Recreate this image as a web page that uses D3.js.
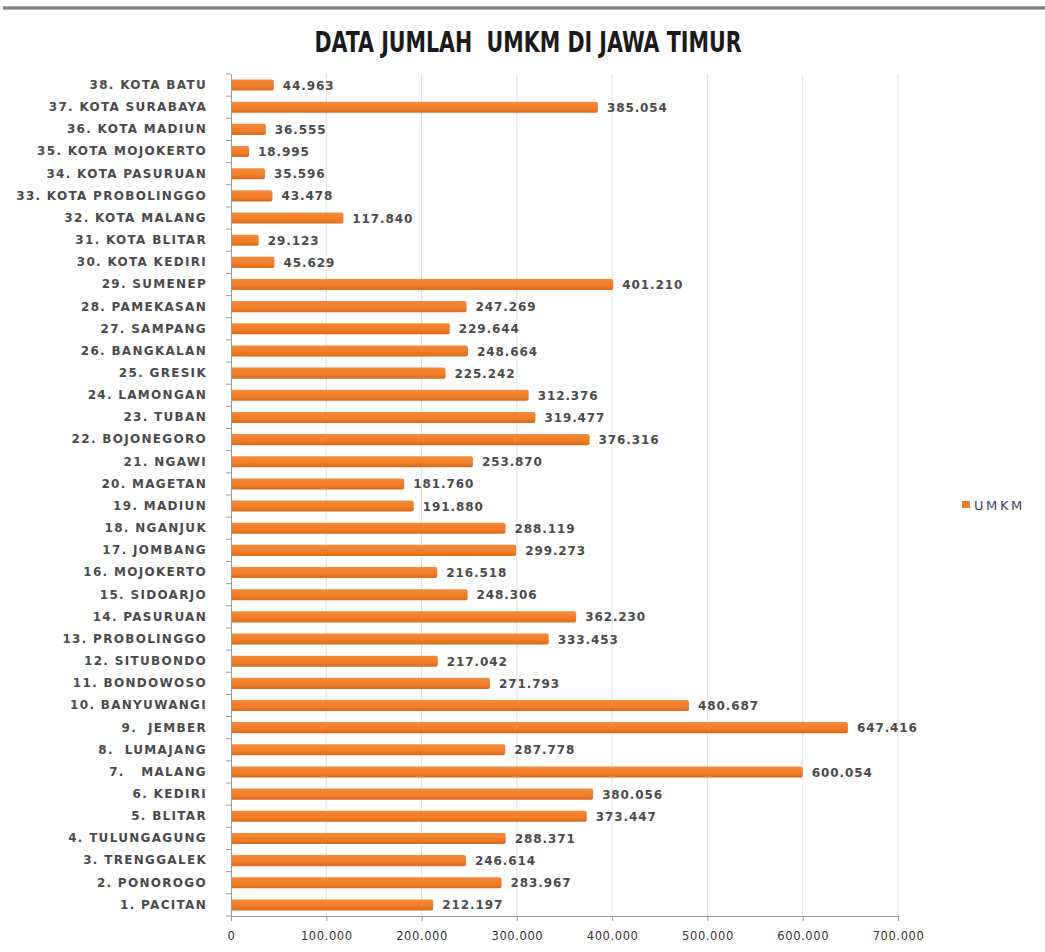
<!DOCTYPE html>
<html>
<head>
<meta charset="utf-8">
<script src="https://cdn.jsdelivr.net/npm/d3@7"></script>
<style>
  body { margin: 0; background: #fff; }
  text { white-space: pre; }
</style>
</head>
<body>
<div id="chart"></div>
<script>
// Data (top to bottom as drawn)
const regions = [
  '38. KOTA BATU', '37. KOTA SURABAYA', '36. KOTA MADIUN', '35. KOTA MOJOKERTO',
  '34. KOTA PASURUAN', '33. KOTA PROBOLINGGO', '32. KOTA MALANG', '31. KOTA BLITAR',
  '30. KOTA KEDIRI', '29. SUMENEP', '28. PAMEKASAN', '27. SAMPANG', '26. BANGKALAN',
  '25. GRESIK', '24. LAMONGAN', '23. TUBAN', '22. BOJONEGORO', '21. NGAWI',
  '20. MAGETAN', '19. MADIUN', '18. NGANJUK', '17. JOMBANG', '16. MOJOKERTO',
  '15. SIDOARJO', '14. PASURUAN', '13. PROBOLINGGO', '12. SITUBONDO', '11. BONDOWOSO',
  '10. BANYUWANGI', '9.  JEMBER', '8.  LUMAJANG', '7.   MALANG', '6. KEDIRI',
  '5. BLITAR', '4. TULUNGAGUNG', '3. TRENGGALEK', '2. PONOROGO', '1. PACITAN'
]
const umkm = [
  44963, 385054, 36555, 18995, 35596, 43478, 117840, 29123, 45629, 401210,
  247269, 229644, 248664, 225242, 312376, 319477, 376316, 253870, 181760, 191880,
  288119, 299273, 216518, 248306, 362230, 333453, 217042, 271793, 480687, 647416,
  287778, 600054, 380056, 373447, 288371, 246614, 283967, 212197
]
const xTicks = [0, 100000, 200000, 300000, 400000, 500000, 600000, 700000]
const seriesName = 'UMKM'

const fmt = v => d3.format(',')(v).replace(/,/g, '.')

const width = 1045, height = 952
const margin = { top: 74, left: 231, right: 147, bottom: 36 }
const innerW = width - margin.left - margin.right
const innerH = height - margin.top - margin.bottom
const labelFont = 'DejaVu Sans, Verdana, sans-serif'

const svg = d3.select('#chart').append('svg')
  .attr('width', width)
  .attr('height', height)

const defs = svg.append('defs')
// top rule
const grad = defs.append('linearGradient')
  .attr('id', 'rule').attr('x1', 0).attr('x2', 0).attr('y1', 0).attr('y2', 1)
grad.append('stop').attr('offset', '0%').attr('stop-color', '#bdbdbd')
grad.append('stop').attr('offset', '50%').attr('stop-color', '#6b6b6b')
grad.append('stop').attr('offset', '100%').attr('stop-color', '#c8c8c8')
// bar shading
const barGrad = defs.append('linearGradient')
  .attr('id', 'bar').attr('x1', 0).attr('x2', 0).attr('y1', 0).attr('y2', 1)
barGrad.append('stop').attr('offset', '0%').attr('stop-color', '#f48a3a')
barGrad.append('stop').attr('offset', '60%').attr('stop-color', '#f07d28')
barGrad.append('stop').attr('offset', '100%').attr('stop-color', '#d96a1c')

svg.append('rect')
  .attr('x', 3).attr('y', 6).attr('width', width - 3).attr('height', 4)
  .attr('fill', 'url(#rule)')

svg.append('text')
  .attr('x', 528).attr('y', 52)
  .attr('text-anchor', 'middle')
  .attr('font-family', 'DejaVu Sans Condensed, sans-serif')
  .attr('font-stretch', 'condensed')
  .attr('font-weight', 'bold')
  .attr('font-size', 29)
  .attr('textLength', 427)
  .attr('lengthAdjust', 'spacingAndGlyphs')
  .attr('fill', '#1a1a1a')
  .text('DATA JUMLAH  UMKM DI JAWA TIMUR')

const ctr = svg.append('g')
  .attr('transform', `translate(${margin.left}, ${margin.top})`)

const xScale = d3.scaleLinear()
  .domain([0, 700000])
  .range([0, 667])

const yScale = d3.scaleBand()
  .domain(regions)
  .range([0, innerH])
  .paddingInner(0.5)
  .paddingOuter(0.25)

// gridlines
ctr.append('g')
  .selectAll('line')
  .data(xTicks.slice(1))
  .join('line')
  .attr('x1', d => xScale(d)).attr('x2', d => xScale(d))
  .attr('y1', 0).attr('y2', innerH)
  .attr('stroke', '#e2e2e2')

// bars
ctr.append('g')
  .selectAll('rect')
  .data(regions)
  .join('rect')
  .attr('x', 0)
  .attr('y', d => yScale(d))
  .attr('width', (d, i) => xScale(umkm[i]))
  .attr('height', yScale.bandwidth())
  .attr('rx', 2)
  .attr('fill', 'url(#bar)')

// value labels
ctr.append('g')
  .selectAll('text')
  .data(regions)
  .join('text')
  .attr('x', (d, i) => xScale(umkm[i]) + 9)
  .attr('y', d => yScale(d) + yScale.bandwidth() / 2)
  .attr('dy', '0.38em')
  .attr('font-family', labelFont)
  .attr('font-size', 12)
  .attr('font-weight', 'bold')
  .attr('letter-spacing', 0.9)
  .attr('fill', '#4a4a4a')
  .text((d, i) => fmt(umkm[i]))

// x axis
const xAxis = d3.axisBottom(xScale)
  .tickValues(xTicks)
  .tickFormat(fmt)
  .tickSize(5)
  .tickSizeOuter(0)
const xg = ctr.append('g')
  .attr('transform', `translate(0, ${innerH})`)
  .call(xAxis)
xg.select('.domain').attr('stroke', '#999')
xg.selectAll('.tick line').attr('stroke', '#999')
xg.selectAll('.tick text')
  .attr('dy', '1.4em')
  .attr('font-family', labelFont)
  .attr('font-size', 11.5)
  .attr('letter-spacing', 0.6)
  .attr('fill', '#333')

// y axis
const yAxis = d3.axisLeft(yScale).tickSize(0).tickPadding(24)
const yg = ctr.append('g').call(yAxis)
yg.select('.domain').attr('stroke', '#999')
yg.selectAll('.tick text')
  .attr('font-family', labelFont)
  .attr('font-weight', 'bold')
  .attr('font-size', 12)
  .attr('letter-spacing', 1.3)
  .attr('fill', '#4a4a4a')
ctr.append('g')
  .selectAll('line')
  .data(d3.range(regions.length + 1))
  .join('line')
  .attr('x1', -5).attr('x2', 0)
  .attr('y1', i => i * innerH / regions.length)
  .attr('y2', i => i * innerH / regions.length)
  .attr('stroke', '#999')

// legend
const legend = svg.append('g').attr('transform', 'translate(962, 505)')
legend.append('rect')
  .attr('x', 0).attr('y', -4).attr('width', 8).attr('height', 7)
  .attr('fill', '#f07d28')
legend.append('text')
  .attr('x', 12).attr('y', 0).attr('dy', '0.38em')
  .attr('font-family', labelFont)
  .attr('font-size', 13)
  .attr('letter-spacing', 2.6)
  .attr('fill', '#454560')
  .text(seriesName)
</script>
</body>
</html>
